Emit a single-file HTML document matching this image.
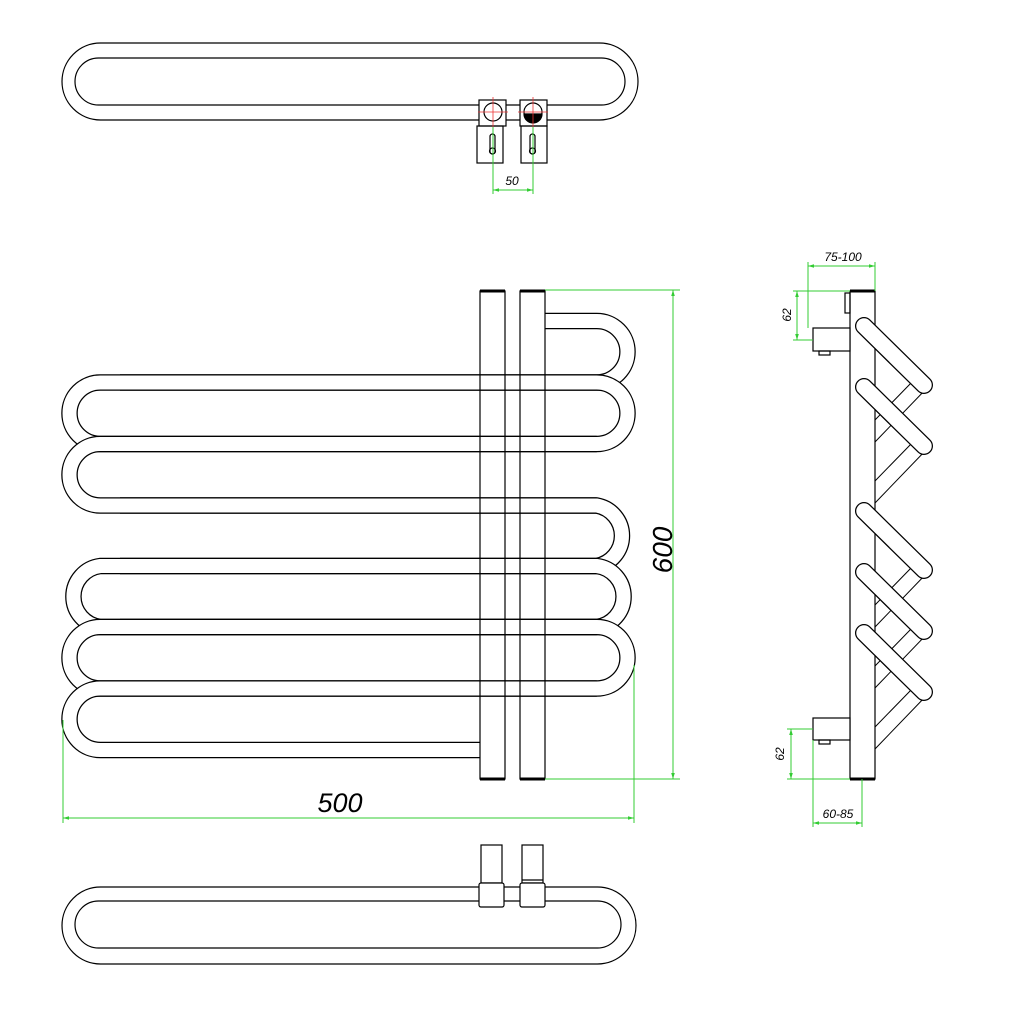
<!DOCTYPE html>
<html><head><meta charset="utf-8"><style>
html,body{margin:0;padding:0;background:#fff}
svg{display:block}
text{font-family:"Liberation Sans",sans-serif;font-style:italic;fill:#000}
</style></head><body>
<svg width="1009" height="1009" viewBox="0 0 1009 1009" xmlns="http://www.w3.org/2000/svg">
<defs>
<marker id="a" viewBox="0 0 10 10" refX="10" refY="5" markerWidth="6" markerHeight="6" orient="auto-start-reverse"><path d="M0,2 L10,5 L0,8z" fill="#3c3"/></marker>
</defs>
<rect width="1009" height="1009" fill="#fff"/>

<!-- TOP VIEW -->
<g fill="none" stroke="#000" stroke-width="1.2">
<rect x="62" y="43" width="576" height="77" rx="38.5"/>
<rect x="75" y="58" width="550" height="47" rx="23.5"/>
<rect x="479" y="100" width="27" height="26" fill="#fff"/>
<rect x="520" y="100" width="27" height="26" fill="#fff"/>
<circle cx="493" cy="112" r="9"/>
<circle cx="533" cy="112" r="9"/>
<path d="M524,114 A9,9 0 0 0 542,114 Z" fill="#000"/>
<rect x="477" y="126" width="26" height="37"/>
<rect x="521" y="126" width="26" height="37"/>
<rect x="490" y="134" width="5" height="20" rx="2.5"/>
<rect x="530" y="134" width="5" height="20" rx="2.5"/>
<circle cx="492.5" cy="151" r="3"/>
<circle cx="532.5" cy="151" r="3"/>
</g>
<g stroke="#e33" stroke-width="0.8">
<line x1="478" y1="112" x2="508" y2="112"/><line x1="493" y1="97" x2="493" y2="127"/>
<line x1="518" y1="112" x2="548" y2="112"/><line x1="533" y1="97" x2="533" y2="127"/>
</g>
<g stroke="#3c3" stroke-width="1" fill="none">
<line x1="493" y1="127" x2="493" y2="194"/><line x1="533" y1="127" x2="533" y2="194"/>
<line x1="493" y1="190" x2="533" y2="190" marker-start="url(#a)" marker-end="url(#a)"/>
</g>
<text x="512" y="185" font-size="12" text-anchor="middle">50</text>

<!-- FRONT VIEW tubes -->
<g fill="none">
<path d="M545,321 H596.75 A30.75,30.75 0 0 1 596.75,382.5 H100.25 A30.75,30.75 0 0 0 100.25,444 H596.75" stroke="#000" stroke-width="16.5"/>
<path d="M545,321 H596.75 A30.75,30.75 0 0 1 596.75,382.5 H100.25 A30.75,30.75 0 0 0 100.25,444 H596.75" stroke="#fff" stroke-width="14"/>
<path d="M120,382.5 H596.75 A30.75,30.75 0 0 1 596.75,444 H100.25 A30.75,30.75 0 0 0 100.25,505.5 H596.75" stroke="#000" stroke-width="16.5"/>
<path d="M120,382.5 H596.75 A30.75,30.75 0 0 1 596.75,444 H100.25 A30.75,30.75 0 0 0 100.25,505.5 H596.75" stroke="#fff" stroke-width="14"/>
<path d="M120,505.5 H596.75 A30.75,30.75 0 0 1 596.75,566 H100.25 A30.75,30.75 0 0 0 100.25,627 H596.75" stroke="#000" stroke-width="16.5"/>
<path d="M120,505.5 H596.75 A30.75,30.75 0 0 1 596.75,566 H100.25 A30.75,30.75 0 0 0 100.25,627 H596.75" stroke="#fff" stroke-width="14"/>
<path d="M120,566 H596.75 A30.75,30.75 0 0 1 596.75,627 H100.25 A30.75,30.75 0 0 0 100.25,688.5 H596.75" stroke="#000" stroke-width="16.5"/>
<path d="M120,566 H596.75 A30.75,30.75 0 0 1 596.75,627 H100.25 A30.75,30.75 0 0 0 100.25,688.5 H596.75" stroke="#fff" stroke-width="14"/>
<path d="M120,627 H596.75 A30.75,30.75 0 0 1 596.75,688.5 H100.25 A30.75,30.75 0 0 0 100.25,750 H480" stroke="#000" stroke-width="16.5"/>
<path d="M120,627 H596.75 A30.75,30.75 0 0 1 596.75,688.5 H100.25 A30.75,30.75 0 0 0 100.25,750 H480" stroke="#fff" stroke-width="14"/>
</g>
<!-- bars -->
<g fill="none" stroke="#000" stroke-width="1.2">
<rect x="480" y="291" width="25" height="488"/>
<rect x="520" y="291" width="25" height="488"/>
</g>
<g stroke="#000" stroke-width="3">
<line x1="480" y1="291" x2="505" y2="291"/><line x1="520" y1="291" x2="545" y2="291"/>
<line x1="480" y1="779" x2="505" y2="779"/><line x1="520" y1="779" x2="545" y2="779"/>
</g>
<!-- front dims -->
<g stroke="#3c3" stroke-width="1" fill="none">
<line x1="545" y1="290" x2="680" y2="290"/>
<line x1="545" y1="779" x2="680" y2="779"/>
<line x1="673" y1="290" x2="673" y2="779" marker-start="url(#a)" marker-end="url(#a)"/>
<line x1="63" y1="720" x2="63" y2="823"/>
<line x1="634" y1="665" x2="634" y2="823"/>
<line x1="63" y1="818" x2="634" y2="818" marker-start="url(#a)" marker-end="url(#a)"/>
</g>
<text x="340" y="812" font-size="27" text-anchor="middle">500</text>
<text x="0" y="0" font-size="28" text-anchor="middle" transform="translate(672,550) rotate(-90)">600</text>

<!-- BOTTOM VIEW -->
<g fill="none" stroke="#000" stroke-width="1.2">
<rect x="62" y="887" width="574" height="77" rx="38.5"/>
<rect x="75" y="901" width="546" height="47" rx="23.5"/>
<rect x="481" y="845" width="21" height="38" fill="#fff"/>
<rect x="522" y="845" width="21" height="38" fill="#fff"/>
<line x1="522" y1="880" x2="543" y2="880"/>
<rect x="479" y="883" width="25" height="24" rx="2" fill="#fff"/>
<rect x="520" y="883" width="25" height="24" rx="2" fill="#fff"/>
</g>

<!-- SIDE VIEW -->
<g fill="none" stroke="#000" stroke-width="1.2">
<g stroke-width="1">
<line x1="927" y1="388" x2="875" y2="442"/><line x1="912" y1="382" x2="875" y2="420"/>
<line x1="927" y1="449" x2="875" y2="503"/><line x1="912" y1="443" x2="875" y2="481"/>
<line x1="927" y1="573" x2="875" y2="627"/><line x1="912" y1="567" x2="875" y2="605"/>
<line x1="927" y1="634" x2="875" y2="688"/><line x1="912" y1="628" x2="875" y2="666"/>
<line x1="927" y1="695" x2="875" y2="749"/><line x1="912" y1="689" x2="875" y2="727"/>
</g>
<rect x="850" y="291" width="25" height="488" fill="#fff"/>
<rect x="845" y="293" width="5" height="20"/>
<rect x="813" y="328" width="37" height="23" fill="#fff"/>
<rect x="819" y="351" width="11" height="4"/>
<rect x="813" y="718" width="37" height="22" fill="#fff"/>
<rect x="819" y="740" width="11" height="4"/>
</g>
<g stroke="#000" stroke-width="3">
<line x1="850" y1="291" x2="875" y2="291"/><line x1="850" y1="779" x2="875" y2="779"/>
</g>
<g stroke-linecap="round">
<g stroke="#000" stroke-width="18">
<line x1="864" y1="326" x2="924" y2="385"/>
<line x1="864" y1="387" x2="924" y2="446"/>
<line x1="864" y1="511" x2="924" y2="570"/>
<line x1="864" y1="572" x2="924" y2="631"/>
<line x1="864" y1="633" x2="924" y2="692"/>
</g>
<g stroke="#fff" stroke-width="15.5">
<line x1="864" y1="326" x2="924" y2="385"/>
<line x1="864" y1="387" x2="924" y2="446"/>
<line x1="864" y1="511" x2="924" y2="570"/>
<line x1="864" y1="572" x2="924" y2="631"/>
<line x1="864" y1="633" x2="924" y2="692"/>
</g>
</g>
<!-- side dims -->
<g stroke="#3c3" stroke-width="1" fill="none">
<line x1="808" y1="262" x2="808" y2="328"/>
<line x1="875" y1="262" x2="875" y2="291"/>
<line x1="808" y1="266" x2="875" y2="266" marker-start="url(#a)" marker-end="url(#a)"/>
<line x1="793" y1="291" x2="850" y2="291"/>
<line x1="793" y1="340" x2="813" y2="340"/>
<line x1="797" y1="291" x2="797" y2="340" marker-start="url(#a)" marker-end="url(#a)"/>
<line x1="787" y1="729" x2="813" y2="729"/>
<line x1="787" y1="779" x2="850" y2="779"/>
<line x1="791" y1="729" x2="791" y2="779" marker-start="url(#a)" marker-end="url(#a)"/>
<line x1="813" y1="740" x2="813" y2="827"/>
<line x1="862" y1="779" x2="862" y2="827"/>
<line x1="813" y1="823" x2="862" y2="823" marker-start="url(#a)" marker-end="url(#a)"/>
</g>
<text x="843" y="261" font-size="12" text-anchor="middle">75-100</text>
<text x="838" y="818" font-size="12" text-anchor="middle">60-85</text>
<text x="0" y="0" font-size="12" text-anchor="middle" transform="translate(791,315) rotate(-90)">62</text>
<text x="0" y="0" font-size="12" text-anchor="middle" transform="translate(784,754) rotate(-90)">62</text>
</svg>
</body></html>
